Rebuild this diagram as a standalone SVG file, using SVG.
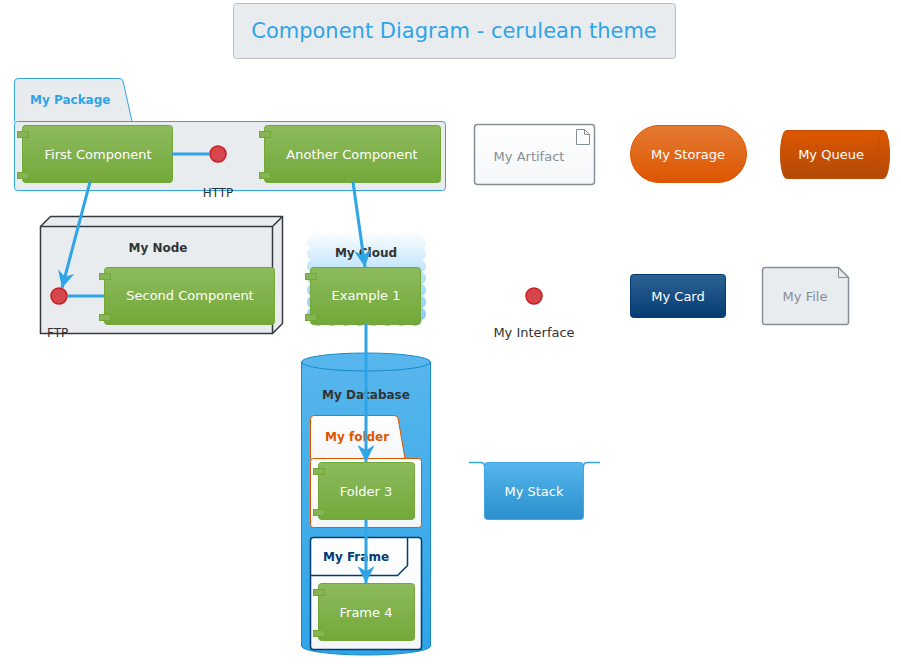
<svg xmlns="http://www.w3.org/2000/svg" width="901" height="669" viewBox="0 0 901 669">
<defs>
<linearGradient id="gGreen" x1="0" y1="0" x2="0" y2="1"><stop offset="0" stop-color="#8dbb5e"/><stop offset="1" stop-color="#73a839"/></linearGradient>
<linearGradient id="gWhite" x1="0" y1="0" x2="0" y2="1"><stop offset="0" stop-color="#ffffff"/><stop offset="1" stop-color="#f4f6f8"/></linearGradient>
<linearGradient id="gOrange" x1="0" y1="0" x2="0" y2="1"><stop offset="0" stop-color="#e47a33"/><stop offset="1" stop-color="#dd5600"/></linearGradient>
<linearGradient id="gQueue" x1="0" y1="0" x2="0" y2="1"><stop offset="0" stop-color="#dd5600"/><stop offset="1" stop-color="#b24a07"/></linearGradient>
<linearGradient id="gNavy" x1="0" y1="0" x2="0" y2="1"><stop offset="0" stop-color="#2e6294"/><stop offset="1" stop-color="#033c73"/></linearGradient>
<linearGradient id="gBlue" x1="0" y1="0" x2="0" y2="1"><stop offset="0" stop-color="#56b6ec"/><stop offset="1" stop-color="#2a8fcc"/></linearGradient>
<linearGradient id="gDb" x1="0" y1="0" x2="0" y2="1"><stop offset="0" stop-color="#58b6ec"/><stop offset="1" stop-color="#2fa4e7"/></linearGradient>
<linearGradient id="gCloud" x1="0" y1="0" x2="0" y2="1"><stop offset="0" stop-color="#ffffff"/><stop offset="0.5" stop-color="#b5e0f9"/><stop offset="1" stop-color="#86cbf5"/></linearGradient>
<marker id="arr" markerUnits="userSpaceOnUse" viewBox="0 0 16 16" refX="16" refY="8" markerWidth="17" markerHeight="17" orient="auto"><path d="M16,8 L0,0 L5,8 L0,16 Z" fill="#2fa4e7"/></marker>
</defs>
<style>
text{font-family:"DejaVu Sans","Liberation Sans",sans-serif;font-size:13px;}
.c{text-anchor:middle;}
.w{fill:#ffffff;}
.b{font-weight:bold;font-size:12px;}
.s{font-size:12px;}
.comp{fill:url(#gGreen);stroke:#73a839;stroke-width:1;}
.port{fill:#86b556;stroke:#73a839;stroke-width:1;}
.lnk{stroke:#2fa4e7;stroke-width:3;fill:none;}
.ifc{fill:#d5474d;stroke:#c71c22;stroke-width:1.5;}
.dk{fill:#333333;}
.gr{fill:#868e96;}
</style>

<g id="title">
<rect x="233.5" y="3.5" width="442" height="55" rx="3" fill="#e9ecef" stroke="#b9bec3"/>
<text x="454" y="38" class="c" style="font-size:21px;fill:#2fa4e7">Component Diagram - cerulean theme</text>
</g>

<g id="pkg">
<path d="M14.5,121.5 L14.5,82 Q14.5,78.5 18,78.5 L119,78.5 Q122,78.5 123,81 L132,121.5" fill="#e9ecef" stroke="#2fa4e7"/>
<rect x="14.5" y="121.5" width="431" height="69" rx="3" fill="#e9ecef" stroke="#2fa4e7"/>
<text x="30" y="104" class="b" style="fill:#2fa4e7">My Package</text>
</g>

<g id="firstComp">
<rect x="22.5" y="125.5" width="150" height="57" rx="3" class="comp"/>
<rect x="17.5" y="131.5" width="11" height="6" class="port"/>
<rect x="17.5" y="172.5" width="11" height="6" class="port"/>
<text x="98" y="159" class="c w">First Component</text>
</g>

<g id="anotherComp">
<rect x="264.5" y="125.5" width="176" height="57" rx="3" class="comp"/>
<rect x="259.5" y="131.5" width="11" height="6" class="port"/>
<rect x="259.5" y="172.5" width="11" height="6" class="port"/>
<text x="352" y="159" class="c w">Another Component</text>
</g>

<g id="node">
<path d="M40.5,226.5 L50.5,216.5 L282.5,216.5 L282.5,323.5 L272.5,333.5 L40.5,333.5 Z" fill="#e9ecef" stroke="#343a40" stroke-width="1.5"/>
<path d="M40.5,226.5 L272.5,226.5 L282.5,216.5 M272.5,226.5 L272.5,333.5" fill="none" stroke="#343a40" stroke-width="1.5"/>
<text x="158" y="252" class="c b dk">My Node</text>
</g>

<g id="secondComp">
<rect x="104.5" y="267.5" width="170" height="57" rx="3" class="comp"/>
<rect x="99.5" y="273.5" width="11" height="6" class="port"/>
<rect x="99.5" y="314.5" width="11" height="6" class="port"/>
<text x="190" y="300" class="c w">Second Component</text>
</g>

<g id="cloud">
<path d="M311,236 a7,7 0 0 1 13.875,0 a7,7 0 0 1 13.875,0 a7,7 0 0 1 13.875,0 a7,7 0 0 1 13.875,0 a7,7 0 0 1 13.875,0 a7,7 0 0 1 13.875,0 a7,7 0 0 1 13.875,0 a7,7 0 0 1 13.875,0 a6.5,6.5 0 0 1 0,12 a6.5,6.5 0 0 1 0,12 a6.5,6.5 0 0 1 0,12 a6.5,6.5 0 0 1 0,12 a6.5,6.5 0 0 1 0,12 a6.5,6.5 0 0 1 0,12 a6.5,6.5 0 0 1 0,12 a7,7 0 0 1 -13.875,0 a7,7 0 0 1 -13.875,0 a7,7 0 0 1 -13.875,0 a7,7 0 0 1 -13.875,0 a7,7 0 0 1 -13.875,0 a7,7 0 0 1 -13.875,0 a7,7 0 0 1 -13.875,0 a7,7 0 0 1 -13.875,0 a6.5,6.5 0 0 1 0,-12 a6.5,6.5 0 0 1 0,-12 a6.5,6.5 0 0 1 0,-12 a6.5,6.5 0 0 1 0,-12 a6.5,6.5 0 0 1 0,-12 a6.5,6.5 0 0 1 0,-12 a6.5,6.5 0 0 1 0,-12 Z" fill="url(#gCloud)"/>
<text x="366" y="257" class="c b dk">My Cloud</text>
</g>

<g id="example1">
<rect x="310.5" y="267.5" width="110" height="57" rx="3" class="comp"/>
<rect x="305.5" y="273.5" width="11" height="6" class="port"/>
<rect x="305.5" y="314.5" width="11" height="6" class="port"/>
<text x="366" y="300" class="c w">Example 1</text>
</g>

<g id="db">
<path d="M301.5,362 L301.5,646 A64.5,9 0 0 0 430.5,646 L430.5,362 A64.5,9 0 0 0 301.5,362 Z" fill="url(#gDb)" stroke="#178acc"/>
<path d="M301.5,362 A64.5,9 0 0 0 430.5,362" fill="none" stroke="#178acc"/>
<text x="366" y="399" class="c b dk">My Database</text>
</g>

<g id="folder">
<path d="M310.5,458.5 L310.5,419 Q310.5,415.5 314,415.5 L394,415.5 Q397,415.5 398,418 L405,458.5" fill="url(#gWhite)" stroke="#dd5600"/>
<rect x="310.5" y="458.5" width="111" height="69" rx="3" fill="url(#gWhite)" stroke="#dd5600"/>
<text x="325" y="441" class="b" style="fill:#dd5600">My folder</text>
</g>

<g id="folder3">
<rect x="318.5" y="462.5" width="96" height="57" rx="3" class="comp"/>
<rect x="313.5" y="468.5" width="11" height="6" class="port"/>
<rect x="313.5" y="509.5" width="11" height="6" class="port"/>
<text x="366" y="496" class="c w">Folder 3</text>
</g>

<g id="frame">
<rect x="310.5" y="537.5" width="111" height="112" rx="3" fill="url(#gWhite)" stroke="#033c73" stroke-width="1.5"/>
<path d="M310.5,575.5 L397.5,575.5 L407.5,565.5 L407.5,537.5" fill="none" stroke="#033c73" stroke-width="1.5"/>
<text x="323" y="561" class="b" style="fill:#033c73">My Frame</text>
</g>

<g id="frame4">
<rect x="318.5" y="583.5" width="96" height="57" rx="3" class="comp"/>
<rect x="313.5" y="589.5" width="11" height="6" class="port"/>
<rect x="313.5" y="630.5" width="11" height="6" class="port"/>
<text x="366" y="617" class="c w">Frame 4</text>
</g>

<g id="httpIfc">
<circle cx="218" cy="154" r="8" class="ifc"/>
<text x="218" y="197" class="c s dk">HTTP</text>
</g>

<g id="ftpIfc">
<circle cx="59" cy="296" r="8" class="ifc"/>
<text x="47" y="337" class="s dk">FTP</text>
</g>

<g id="artifact">
<rect x="474.5" y="124.5" width="120" height="60" rx="3" fill="url(#gWhite)" stroke="#868e96" stroke-width="1.5"/>
<path d="M576.5,129.5 L584.5,129.5 L589.5,134.5 L589.5,144.5 L576.5,144.5 Z M584.5,129.5 L584.5,134.5 L589.5,134.5" fill="none" stroke="#868e96"/>
<text x="529" y="161" class="c gr">My Artifact</text>
</g>

<g id="storage">
<rect x="630.5" y="125.5" width="116" height="57" rx="28.5" fill="url(#gOrange)" stroke="#dd5600"/>
<text x="688" y="159" class="c w">My Storage</text>
</g>

<g id="queue">
<path d="M786.5,130.5 L883.5,130.5 A6,24 0 0 1 883.5,178.5 L786.5,178.5 A6,24 0 0 1 786.5,130.5 Z" fill="url(#gQueue)" stroke="#c14d06"/>
<path d="M883.5,130.5 A6,24 0 0 0 883.5,178.5" fill="none" stroke="#c14d06"/>
<text x="831" y="159" class="c w">My Queue</text>
</g>

<g id="myIfc">
<circle cx="534" cy="296" r="8" class="ifc"/>
<text x="534" y="337" class="c dk">My Interface</text>
</g>

<g id="card">
<rect x="630.5" y="274.5" width="95" height="43" rx="3" fill="url(#gNavy)" stroke="#033c73"/>
<text x="678" y="301" class="c w">My Card</text>
</g>

<g id="file">
<path d="M765.5,267.5 L838.5,267.5 L848.5,277.5 L848.5,322.5 Q848.5,324.5 846,324.5 L765,324.5 Q762.5,324.5 762.5,322 L762.5,270 Q762.5,267.5 765.5,267.5 Z" fill="#e9ecef" stroke="#868e96" stroke-width="1.5"/>
<path d="M838.5,267.5 L838.5,277.5 L848.5,277.5" fill="none" stroke="#868e96"/>
<text x="805" y="301" class="c gr">My File</text>
</g>

<g id="stack">
<rect x="484.5" y="462.5" width="99" height="57" rx="3" fill="url(#gBlue)" stroke="#40a8e6"/>
<path d="M469,462.5 L480.5,462.5 Q484.5,462.5 484.5,466.5 M600,462.5 L587.5,462.5 Q583.5,462.5 583.5,466.5" fill="none" stroke="#2fa4e7" stroke-width="1.5"/>
<text x="534" y="496" class="c w">My Stack</text>
</g>

<g id="connectors">
<line x1="172" y1="154" x2="210" y2="154" class="lnk"/>
<line x1="67" y1="296" x2="104" y2="296" class="lnk"/>
<line x1="90" y1="182" x2="62" y2="288" class="lnk" marker-end="url(#arr)"/>
<line x1="353" y1="182" x2="365" y2="267" class="lnk" marker-end="url(#arr)"/>
<line x1="366" y1="324" x2="366" y2="462" class="lnk" marker-end="url(#arr)"/>
<line x1="366" y1="520" x2="366" y2="583" class="lnk" marker-end="url(#arr)"/>
</g>
</svg>
